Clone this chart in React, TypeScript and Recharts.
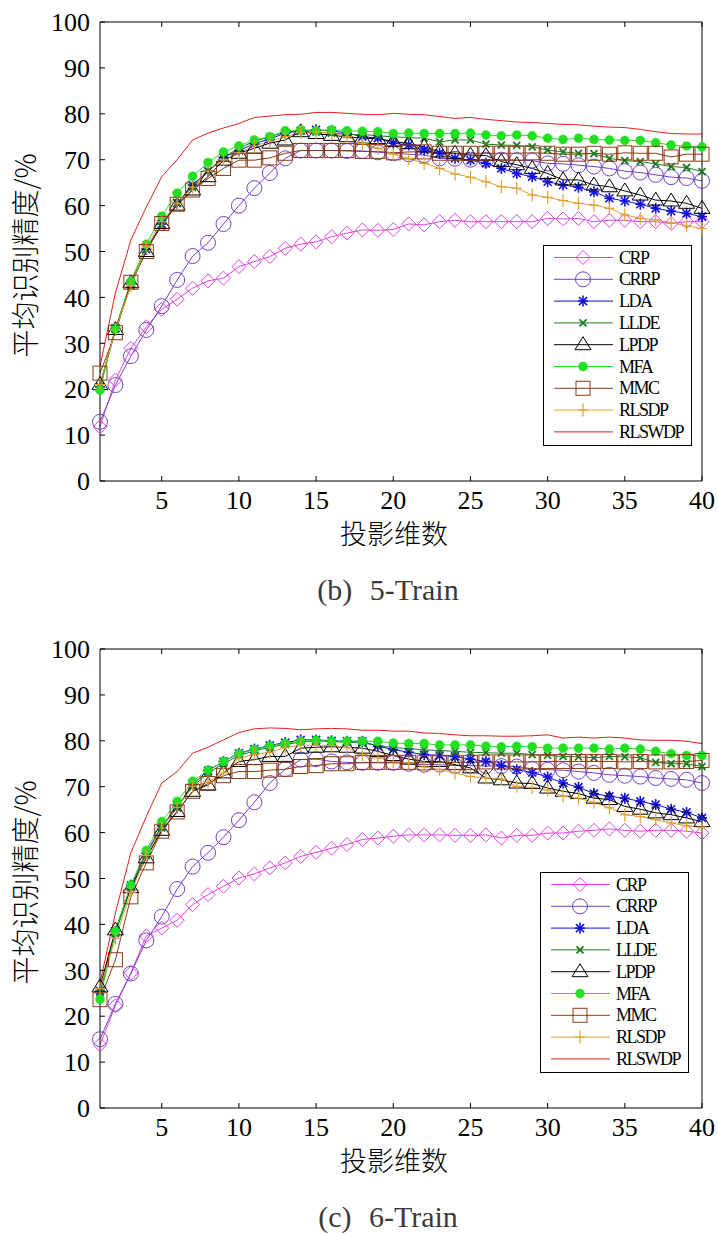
import { LineChart, Line, XAxis, YAxis, Label } from 'recharts'

const dims = [1, 2, 3, 4, 5, 6, 7, 8, 9, 10, 11, 12, 13, 14, 15, 16, 17, 18, 19, 20, 21, 22, 23, 24, 25, 26, 27, 28, 29, 30, 31, 32, 33, 34, 35, 36, 37, 38, 39, 40]
const xTicks = [5, 10, 15, 20, 25, 30, 35, 40]
const yTicks = [0, 10, 20, 30, 40, 50, 60, 70, 80, 90, 100]
const methods = ['CRP', 'CRRP', 'LDA', 'LLDE', 'LPDP', 'MFA', 'MMC', 'RLSDP', 'RLSWDP']

// (b) 5-Train
const crp5 = [11.8, 22.0, 28.9, 33.6, 37.4, 39.6, 42.0, 43.6, 44.2, 46.7, 47.8, 48.9, 50.7, 51.6, 52.1, 53.2, 54.0, 54.7, 54.6, 54.8, 56.0, 55.8, 56.5, 56.8, 56.5, 56.5, 56.5, 56.5, 56.5, 57.2, 57.1, 57.2, 56.5, 56.8, 56.8, 56.5, 56.5, 56.1, 56.5, 56.5]
const crrp5 = [12.9, 20.9, 27.2, 32.9, 38.1, 43.8, 49.0, 51.9, 56.0, 60.0, 63.8, 67.1, 70.3, 72.0, 72.0, 72.0, 71.9, 71.9, 71.6, 71.4, 71.2, 71.0, 70.3, 70.2, 70.0, 70.0, 70.0, 69.9, 69.8, 69.2, 69.1, 68.8, 68.5, 68.1, 67.5, 67.2, 66.7, 66.2, 66.0, 65.4]
const lda5 = [20.5, 33.3, 43.0, 50.5, 56.0, 60.5, 64.5, 67.5, 70.5, 72.0, 73.5, 74.5, 75.8, 76.3, 76.5, 76.3, 75.8, 75.0, 74.7, 73.6, 73.2, 72.1, 71.4, 70.3, 69.9, 69.2, 68.1, 67.0, 66.3, 65.2, 64.5, 64.0, 63.0, 61.6, 61.0, 60.3, 59.4, 58.8, 58.3, 57.6]
const llde5 = [20.5, 33.0, 42.5, 50.5, 55.5, 60.5, 64.0, 67.5, 70.5, 72.5, 74.0, 75.0, 76.0, 76.2, 76.0, 75.8, 75.5, 75.5, 75.2, 75.0, 74.8, 74.7, 73.9, 74.3, 74.3, 73.4, 73.2, 73.1, 72.8, 72.1, 71.7, 71.4, 71.3, 70.3, 69.8, 69.6, 69.1, 68.5, 68.3, 67.4]
const lpdp5 = [21.0, 33.0, 43.2, 50.0, 56.1, 60.1, 63.4, 66.3, 69.9, 71.4, 72.5, 73.6, 74.3, 76.1, 75.7, 75.3, 75.0, 74.7, 74.6, 74.0, 73.5, 72.8, 71.7, 71.4, 71.0, 70.9, 69.6, 68.9, 68.1, 67.0, 65.6, 65.6, 64.5, 64.1, 63.2, 62.3, 61.2, 61.0, 60.5, 59.4]
const mfa5 = [19.8, 33.3, 43.4, 51.6, 57.7, 62.7, 66.4, 69.4, 71.7, 73.0, 74.3, 75.0, 76.3, 76.5, 76.3, 76.5, 76.3, 76.2, 76.1, 75.7, 75.8, 75.7, 75.7, 75.7, 75.8, 75.4, 75.2, 75.4, 75.2, 74.7, 74.4, 74.7, 74.4, 74.3, 74.2, 74.2, 73.7, 73.2, 73.0, 72.8]
const mmc5 = [23.5, 32.3, 43.3, 50.0, 56.1, 60.3, 63.4, 65.9, 68.1, 69.9, 69.9, 70.4, 71.4, 72.0, 72.0, 72.0, 72.0, 71.8, 71.8, 71.5, 71.7, 71.7, 71.4, 71.4, 71.4, 71.4, 71.4, 71.4, 71.5, 71.4, 71.2, 71.2, 71.4, 71.2, 71.5, 71.4, 71.4, 70.6, 71.2, 71.2]
const rlsdp5 = [21.0, 33.0, 42.5, 51.0, 56.5, 60.5, 64.0, 67.5, 70.0, 71.5, 73.0, 74.0, 75.0, 76.0, 76.0, 75.8, 75.0, 73.5, 72.5, 71.2, 70.3, 69.2, 68.1, 66.9, 66.2, 65.2, 64.1, 63.8, 62.3, 61.8, 61.1, 60.5, 60.1, 59.4, 58.0, 57.2, 56.9, 56.3, 55.6, 55.0]
const rlswdp5 = [25.0, 41.0, 52.5, 59.7, 66.3, 70.0, 74.3, 75.8, 76.9, 77.9, 79.2, 79.5, 79.8, 79.9, 80.3, 80.3, 80.1, 79.9, 79.8, 80.1, 79.9, 79.8, 79.4, 79.0, 79.2, 78.8, 78.5, 78.2, 78.1, 77.9, 77.7, 77.6, 77.3, 77.1, 77.0, 76.6, 76.1, 75.7, 75.6, 75.6]

// (c) 6-Train
const crp6 = [13.8, 22.3, 29.4, 37.5, 39.2, 40.9, 44.3, 46.5, 48.3, 50.1, 51.0, 52.3, 53.4, 54.8, 55.7, 56.6, 57.4, 58.5, 58.8, 59.2, 59.5, 59.5, 59.5, 59.4, 59.4, 59.5, 58.8, 59.4, 59.4, 59.9, 59.9, 60.3, 60.5, 60.8, 60.5, 60.3, 60.5, 60.5, 60.3, 59.9]
const crrp6 = [15.0, 22.7, 29.3, 36.5, 41.7, 47.7, 52.6, 55.6, 59.0, 62.7, 66.6, 70.8, 73.8, 75.9, 76.0, 75.5, 75.3, 75.2, 75.2, 75.2, 75.0, 74.8, 74.8, 74.6, 74.6, 74.5, 74.5, 74.4, 73.9, 73.7, 73.6, 73.3, 73.0, 72.6, 72.4, 72.2, 71.9, 71.7, 71.5, 70.8]
const lda6 = [25.5, 38.5, 48.5, 55.5, 61.5, 65.5, 70.5, 73.5, 75.5, 77.3, 78.2, 79.0, 79.6, 80.2, 80.2, 80.0, 79.9, 79.9, 78.8, 78.1, 77.5, 77.0, 76.8, 76.6, 76.0, 75.5, 74.6, 73.7, 73.1, 72.1, 70.8, 69.9, 68.5, 67.9, 67.5, 66.8, 66.1, 65.1, 64.4, 63.2]
const llde6 = [25.0, 38.0, 48.0, 55.0, 61.0, 65.5, 70.0, 73.0, 75.0, 76.8, 77.8, 78.6, 79.2, 79.7, 80.0, 79.8, 79.7, 79.5, 79.0, 78.5, 78.3, 78.0, 77.9, 77.7, 77.5, 77.4, 77.3, 77.3, 77.0, 76.8, 76.6, 76.5, 76.3, 76.6, 76.5, 76.3, 75.3, 75.0, 75.0, 74.4]
const lpdp6 = [26.4, 38.8, 48.0, 54.5, 60.5, 64.6, 69.0, 70.4, 73.0, 75.5, 75.9, 76.6, 76.6, 78.4, 78.6, 78.7, 78.6, 78.4, 77.7, 76.8, 76.0, 75.5, 75.5, 74.8, 74.1, 71.9, 71.5, 70.8, 70.7, 69.7, 69.0, 68.5, 67.5, 67.2, 65.7, 65.1, 64.3, 63.9, 63.2, 62.4]
const mfa6 = [23.7, 38.5, 48.6, 56.1, 62.4, 66.8, 71.2, 73.6, 75.5, 77.2, 78.1, 78.9, 79.4, 79.9, 80.1, 79.9, 79.9, 79.9, 79.9, 79.5, 79.4, 79.4, 79.1, 79.1, 79.1, 78.8, 78.7, 78.8, 78.7, 78.4, 78.4, 78.4, 78.4, 78.2, 78.4, 78.2, 77.7, 77.2, 76.8, 76.8]
const mmc6 = [23.6, 32.3, 46.0, 53.4, 60.3, 64.5, 69.0, 70.7, 72.4, 73.3, 73.3, 73.6, 73.8, 74.4, 74.6, 75.0, 75.0, 75.3, 75.3, 75.3, 75.3, 75.2, 75.3, 75.3, 75.3, 75.4, 75.4, 75.4, 75.4, 75.5, 75.5, 75.5, 75.5, 75.5, 75.4, 75.5, 75.4, 75.4, 75.5, 75.7]
const rlsdp6 = [26.0, 37.0, 47.0, 55.0, 61.0, 65.5, 70.0, 71.0, 73.0, 76.2, 77.0, 77.5, 78.5, 79.0, 79.0, 79.0, 78.5, 77.0, 76.3, 75.5, 75.2, 74.3, 73.7, 73.0, 72.2, 71.9, 71.7, 70.1, 69.8, 69.3, 67.9, 67.5, 66.6, 65.4, 63.9, 63.5, 62.8, 62.1, 61.5, 61.2]
const rlswdp6 = [27.3, 42.5, 55.6, 63.5, 70.8, 73.3, 77.3, 78.6, 80.2, 81.8, 82.6, 82.8, 82.7, 82.4, 82.6, 82.7, 82.6, 82.3, 82.3, 82.1, 82.1, 81.7, 81.6, 81.3, 81.1, 81.1, 81.0, 81.0, 81.1, 81.3, 80.6, 80.8, 80.6, 80.8, 80.6, 80.2, 80.1, 80.1, 79.9, 79.4]

type Shape = 'diamond' | 'circle' | 'star' | 'cross' | 'triangle' | 'dot' | 'square' | 'plus' | 'none'

const look: Record<string, { color: string; shape: Shape }> = {
  CRP: { color: '#e040e0', shape: 'diamond' },
  CRRP: { color: '#7040c8', shape: 'circle' },
  LDA: { color: '#1010e0', shape: 'star' },
  LLDE: { color: '#1e7a1e', shape: 'cross' },
  LPDP: { color: '#000000', shape: 'triangle' },
  MFA: { color: '#20e020', shape: 'dot' },
  MMC: { color: '#8b3a10', shape: 'square' },
  RLSDP: { color: '#e0a030', shape: 'plus' },
  RLSWDP: { color: '#e02020', shape: 'none' },
}

const build = (cols: number[][]) =>
  dims.map((d, i) => {
    const row: Record<string, number> = { x: d }
    methods.forEach((m, j) => { row[m] = cols[j][i] })
    return row
  })

const rows5 = build([crp5, crrp5, lda5, llde5, lpdp5, mfa5, mmc5, rlsdp5, rlswdp5])
const rows6 = build([crp6, crrp6, lda6, llde6, lpdp6, mfa6, mmc6, rlsdp6, rlswdp6])

const SERIF = "'Liberation Serif', 'DejaVu Serif', serif"
const CJK = "'Noto Sans CJK SC', sans-serif"

function Marker({ cx, cy, shape, color }: { cx: number; cy: number; shape: Shape; color: string }) {
  if (cx == null || cy == null) return null
  switch (shape) {
    case 'diamond':
      return <polygon points={`${cx},${cy - 7} ${cx + 7},${cy} ${cx},${cy + 7} ${cx - 7},${cy}`} fill="none" stroke={color} strokeWidth={1} />
    case 'circle':
      return <circle cx={cx} cy={cy} r={7.5} fill="none" stroke={color} strokeWidth={1} />
    case 'star':
      return (
        <g stroke={color} strokeWidth={1.6}>
          <line x1={cx - 5} y1={cy} x2={cx + 5} y2={cy} />
          <line x1={cx} y1={cy - 5.5} x2={cx} y2={cy + 5.5} />
          <line x1={cx - 4} y1={cy - 4} x2={cx + 4} y2={cy + 4} />
          <line x1={cx - 4} y1={cy + 4} x2={cx + 4} y2={cy - 4} />
        </g>
      )
    case 'cross':
      return (
        <g stroke={color} strokeWidth={1.8}>
          <line x1={cx - 3.5} y1={cy - 3.5} x2={cx + 3.5} y2={cy + 3.5} />
          <line x1={cx - 3.5} y1={cy + 3.5} x2={cx + 3.5} y2={cy - 3.5} />
        </g>
      )
    case 'triangle':
      return <polygon points={`${cx},${cy - 8} ${cx + 8},${cy + 5} ${cx - 8},${cy + 5}`} fill="none" stroke={color} strokeWidth={1} />
    case 'dot':
      return <circle cx={cx} cy={cy} r={4.5} fill={color} stroke={color} strokeWidth={0.5} />
    case 'square':
      return <rect x={cx - 7} y={cy - 7} width={14} height={14} fill="none" stroke={color} strokeWidth={1} />
    case 'plus':
      return (
        <g stroke={color} strokeWidth={1.2}>
          <line x1={cx} y1={cy - 6.5} x2={cx} y2={cy + 6.5} />
          <line x1={cx - 5} y1={cy} x2={cx + 5} y2={cy} />
        </g>
      )
    default:
      return null
  }
}

function LegendBox({ left, top }: { left: number; top: number }) {
  return (
    <svg width={150} height={202} style={{ position: 'absolute', left, top }}>
      <rect x={0.5} y={0.5} width={148} height={200} fill="#fff" stroke="#000" strokeWidth={1} />
      {methods.map((m, i) => {
        const cy = 12.5 + i * 21.8
        return (
          <g key={m}>
            <line x1={11} y1={cy} x2={70} y2={cy} stroke={look[m].color} strokeWidth={1} />
            <Marker cx={40} cy={cy} shape={look[m].shape} color={look[m].color} />
            <text x={76} y={cy} dominantBaseline="central" fontFamily={SERIF} fontSize={18} letterSpacing={-1.5} fill="#000">{m}</text>
          </g>
        )
      })}
    </svg>
  )
}

function Panel({ rows, top, legendLeft, caption }: { rows: Record<string, number>[]; top: number; legendLeft: number; caption: string }) {
  const tickStyle = { fill: '#000', fontSize: 26, fontFamily: SERIF }
  return (
    <div style={{ position: 'absolute', left: 0, top, width: 718, height: 620 }}>
      <LineChart width={718} height={560} data={rows} margin={{ top: 21, right: 15, bottom: 0, left: 0 }}>
        <XAxis xAxisId="b" dataKey="x" type="number" domain={[1, 40]} ticks={xTicks} interval={0} height={79}
          tickSize={-5} tickMargin={15} stroke="#000" tick={tickStyle}>
          <Label content={(p: any) => {
            const vb = p.viewBox
            return <text x={vb.x + vb.width / 2 - 7} y={vb.y + 63} textAnchor="middle" fontFamily={CJK} fontWeight={300} fontSize={27} fill="#000">投影维数</text>
          }} />
        </XAxis>
        <XAxis xAxisId="t" orientation="top" dataKey="x" type="number" domain={[1, 40]} ticks={xTicks} interval={0} height={1}
          tickSize={-5} tickFormatter={() => ''} stroke="#000" />
        <YAxis yAxisId="l" type="number" domain={[0, 100]} ticks={yTicks} interval={0} width={100}
          tickSize={-5} tickMargin={15} stroke="#000" tick={tickStyle}>
          <Label content={(p: any) => {
            const vb = p.viewBox
            const cy = vb.y + vb.height / 2 + 4
            return <text x={24} y={cy} transform={`rotate(-90 24 ${cy})`} textAnchor="middle" dominantBaseline="central" fontFamily={CJK} fontWeight={300} fontSize={28} fill="#000">平均识别精度/%</text>
          }} />
        </YAxis>
        <YAxis yAxisId="r" orientation="right" type="number" domain={[0, 100]} ticks={yTicks} interval={0} width={1}
          tickSize={-5} tickFormatter={() => ''} stroke="#000" />
        {methods.map((m) => (
          <Line key={m} xAxisId="b" yAxisId="l" type="linear" dataKey={m} stroke={look[m].color} strokeWidth={1}
            isAnimationActive={false} activeDot={false}
            dot={look[m].shape === 'none' ? false : (p: any) => <Marker key={`${m}-${p.index}`} cx={p.cx} cy={p.cy} shape={look[m].shape} color={look[m].color} />} />
        ))}
      </LineChart>
      <LegendBox left={legendLeft} top={245} />
      <div style={{ position: 'absolute', left: 268, top: 575, width: 240, textAlign: 'center', fontFamily: SERIF, fontSize: 30, lineHeight: '30px', color: '#3a3a3a', wordSpacing: 10, whiteSpace: 'nowrap' }}>
        {caption}
      </div>
    </div>
  )
}

export default function App() {
  return (
    <div style={{ position: 'absolute', left: 0, top: 0, width: 718, height: 1234, background: '#fff' }}>
      <Panel rows={rows5} top={0} legendLeft={543} caption="(b) 5-Train" />
      <Panel rows={rows6} top={627} legendLeft={540} caption="(c) 6-Train" />
    </div>
  )
}
